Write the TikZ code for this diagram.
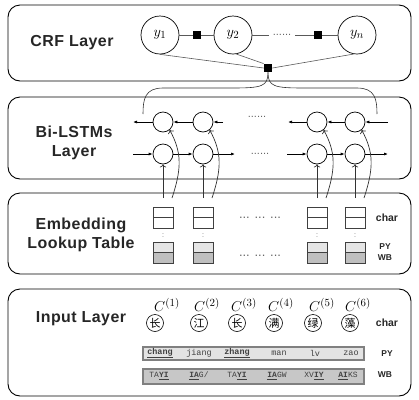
\documentclass[tikz,border=0pt]{standalone}
\usepackage[no-math]{fontspec}
\setmainfont{Liberation Sans}
\setmonofont{Liberation Mono}
\newfontfamily\layerfont[LetterSpace=3]{Liberation Sans}
\newfontfamily\cjk{Noto Sans CJK SC}
\usetikzlibrary{arrows.meta}
\newcommand{\ubf}[1]{\underline{\textbf{#1}}}

\begin{document}
\begin{tikzpicture}[x=1bp,y=-1bp,
    layer/.style={draw,line width=0.9bp,rounded corners=12bp},
    layername/.style={font=\layerfont\bfseries\fontsize{16}{19}\selectfont,text=black!85,align=center},
    tag/.style={font=\bfseries\fontsize{10.5}{12}\selectfont,text=black!85},
    smalltag/.style={font=\bfseries\fontsize{8.5}{10}\selectfont,text=black!85},
    ycirc/.style={circle,draw,line width=0.7bp,minimum size=38bp,inner sep=0,font=\fontsize{15}{15}\selectfont},
    factor/.style={fill=black,minimum size=8.5bp,inner sep=0},
    crfline/.style={draw=black!65,line width=0.6bp},
    dotsnode/.style={text=black!60,font=\fontsize{11}{11}\selectfont,inner sep=4bp},
    cell/.style={circle,draw,line width=0.7bp,minimum size=20bp,inner sep=0},
    harr/.style={-{Latex[length=4bp,width=3bp]},line width=0.7bp},
    uparr/.style={->,line width=0.7bp,black!80},
    emb/.style={draw=black!75,line width=0.8bp,minimum width=20bp,minimum height=10.5bp,inner sep=0},
    charcirc/.style={circle,draw,line width=0.6bp,minimum size=17bp,inner sep=0,font=\cjk\fontsize{11}{11}\selectfont},
    bar/.style={draw=black!50,line width=1.1bp,minimum width=221bp,inner sep=0},
    pytxt/.style={text=black!75,font=\ttfamily\fontsize{8.5}{9}\selectfont},
    wbtxt/.style={text=black!75,font=\ttfamily\fontsize{8}{9}\selectfont}]
  \useasboundingbox (0,0) rectangle (419,400);

  \draw[layer] (8,5) rectangle (411,81);
  \draw[layer] (8,97) rectangle (411,179);
  \draw[layer] (8,193) rectangle (411,274);
  \draw[layer] (8,289) rectangle (411,396);

  \node[layername] (crfname) at (72,43) {CRF Layer};
  \node[layername] (lstmname) at (74,142.5) {Bi-LSTMs\\Layer};
  \node[layername] (embname) at (81,234.5) {Embedding\\Lookup Table};
  \node[layername] (inname) at (81,319) {Input Layer};

  % CRF layer
  \node[ycirc] (y1) at (160,35) {$y_1$};
  \node[ycirc] (y2) at (233,35) {$y_2$};
  \node[ycirc] (yn) at (357,35) {$y_n$};
  \node[factor] (f1) at (197,35) {};
  \node[factor] (f2) at (318,35) {};
  \node[factor] (fc) at (268,68) {};
  \node[dotsnode] (crfdots) at (282,35) {......};
  \draw[crfline] (y1) -- (f1) -- (y2);
  \draw[crfline] (y2) -- (crfdots);
  \draw[crfline] (crfdots) -- (f2) -- (yn);
  \draw[crfline] (y1.south) -- (fc.west);
  \draw[crfline] (y2.-80) -- (fc.north west);
  \draw[crfline] (yn.-100) -- (fc.east);

  \coordinate (bl) at (143,114);
  \coordinate (br) at (377,114);
  \draw[crfline,black!80] (fc.south) .. controls +(0,14) and +(30,0) .. (232,88) -- (163,88) .. controls +(-18,0) and +(0,-15) .. (bl);
  \draw[crfline,black!80] (fc.south) .. controls +(0,14) and +(-30,0) .. (304,88) -- (357,88) .. controls +(18,0) and +(0,-15) .. (br);

  % Bi-LSTMs layer
  \foreach \x [count=\i] in {163,203,317,355} {
    \node[cell] (fw\i) at (\x,154) {};
    \node[cell] (bw\i) at (\x,122) {};
  }
  \coordinate (fwin) at (133,154);
  \coordinate (fwmid) at (235,154);
  \coordinate (fwmid2) at (287,154);
  \coordinate (fwout) at (388,154);
  \coordinate (bwin) at (388,122);
  \coordinate (bwmid) at (288,122);
  \coordinate (bwmid2) at (223,122);
  \coordinate (bwout) at (133,122);
  \draw[harr] (fwin) -- (fw1);
  \draw[harr] (fw1) -- (fw2);
  \draw[harr] (fw2) -- (fwmid);
  \draw[harr] (fwmid2) -- (fw3);
  \draw[harr] (fw3) -- (fw4);
  \draw[harr] (fw4) -- (fwout);
  \draw[harr] (bwin) -- (bw4);
  \draw[harr] (bw4) -- (bw3);
  \draw[harr] (bw3) -- (bwmid);
  \draw[harr] (bwmid2) -- (bw2);
  \draw[harr] (bw2) -- (bw1);
  \draw[harr] (bw1) -- (bwout);
  \node[dotsnode] (fwdots) at (260,154) {......};
  \node[dotsnode] (bwdots) at (257,117) {......};

  % Embedding lookup table
  \foreach \x [count=\i] in {163,203,317,355} {
    \node[emb] (ca\i) at (\x,212.25) {};
    \node[emb] (cb\i) at (\x,222.75) {};
    \node[text=black!60,font=\fontsize{7}{7}\selectfont] (colon\i) at (\x,235.5) {:};
    \node[emb,fill=black!10] (py\i) at (\x,247.25) {};
    \node[emb,fill=black!25] (wb\i) at (\x,257.75) {};
    \coordinate (s\i) at (\x,198);
    \coordinate (t\i) at (\x+9,198);
    \draw[uparr] (s\i) -- (fw\i.south);
    \draw[uparr] (t\i) .. controls +(10,-30) and +(12,22) .. (bw\i.-50);
  }
  \node[dotsnode,font=\fontsize{13}{13}\selectfont] (embdots1) at (260,218) {... ... ...};
  \node[dotsnode,font=\fontsize{13}{13}\selectfont] (embdots2) at (260,256) {... ... ...};
  \node[tag] (embchar) at (387,218) {char};
  \node[smalltag] (embpy) at (385,247) {PY};
  \node[smalltag] (embwb) at (385,258) {WB};

  % Input layer
  \foreach \x/\n in {167/1,207/2,244/3,281/4,322/5,358/6}
    \node[font=\fontsize{15}{15}\selectfont] (c\n) at (\x,305) {$C^{(\n)}$};
  \foreach \x/\c [count=\i] in {155/长,199/江,237/长,274/满,313/绿,350/藻}
    \node[charcirc] (ch\i) at (\x,323) {\c};
  \node[tag] (inchar) at (387,323) {char};

  \node[bar,fill=black!11,minimum height=13bp] (pybar) at (253.5,353.5) {};
  \node[smalltag] (inpy) at (387,354) {PY};
  \foreach \x/\t in {160/\ubf{chang},199/jiang,237/\ubf{zhang},279/man,315/lv,351/zao}
    \node[pytxt] at (\x,353) {\t};

  \node[bar,fill=black!22,minimum height=15bp] (wbbar) at (253.5,376.5) {};
  \node[smalltag] (inwb) at (385,375) {WB};
  \node[wbtxt] (wbt1) at (159,376) {TA\ubf{YI}};
  \node[wbtxt] (wbt2) at (199,376) {\ubf{IA}G/};
  \node[wbtxt] (wbt3) at (237,376) {TA\ubf{YI}};
  \node[wbtxt] (wbt4) at (277,376) {\ubf{IA}GW};
  \node[wbtxt] (wbt5) at (314,376) {XV\ubf{IY}};
  \node[wbtxt] (wbt6) at (348,376) {\ubf{AI}KS};
\end{tikzpicture}
\end{document}
